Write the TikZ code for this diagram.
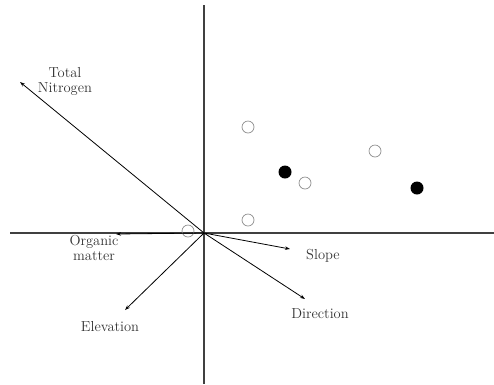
\documentclass[tikz,border=0pt]{standalone}
\usetikzlibrary{arrows.meta}
\tikzset{
  axis/.style={line width=1.4pt, black!75},
  vec/.style={-{Stealth[length=5pt,width=3.5pt]}, line width=0.8pt},
  lab/.style={font=\fontsize{14.5}{15}\selectfont, align=center, text=black!80, inner sep=0pt},
  opensite/.style={circle, draw=black!45, line width=0.7pt, minimum size=12pt, inner sep=0pt},
  fullsite/.style={circle, fill=black, minimum size=13pt, inner sep=0pt},
}
\begin{document}
\begin{tikzpicture}[x=1pt, y=-1pt]
    \useasboundingbox (0,0) rectangle (494,384);

    % coordinates to be reused
    \coordinate (O) at (204,233);
    \coordinate (L) at (10,233);
    \coordinate (R) at (494,233);
    \coordinate (T) at (204,5);
    \coordinate (B) at (204,384);
    \coordinate (tn) at (20,82);
    \coordinate (om) at (116,234);
    \coordinate (el) at (125,310);
    \coordinate (sl) at (290,249);
    \coordinate (di) at (305,299);

    % draw axes
    \draw [axis] (L) -- (R);
    \draw [axis] (T) -- (B);

    % sites
    \node [opensite] (s1) at (188,231) {};
    \node [opensite] (s2) at (248,127) {};
    \node [fullsite] (s3) at (285,172) {};
    \node [opensite] (s4) at (305,183) {};
    \node [opensite] (s5) at (375,151) {};
    \node [fullsite] (s6) at (417,188) {};
    \node [opensite] (s7) at (248,220) {};

    % draw vectors
    \draw [vec] (O) -- (tn);
    \draw [vec] (O) -- (om);
    \draw [vec] (O) -- (el);
    \draw [vec] (O) -- (sl);
    \draw [vec] (O) -- (di);

    % add labels
    \node [lab] (ltn) at (65,81) {Total\\Nitrogen};
    \node [lab] (lom) at (94,248) {Organic\\matter};
    \node [lab] (lel) at (110,327) {Elevation};
    \node [lab] (lsl) at (323,256) {Slope};
    \node [lab] (ldi) at (320,314) {Direction};
\end{tikzpicture}
\end{document}
